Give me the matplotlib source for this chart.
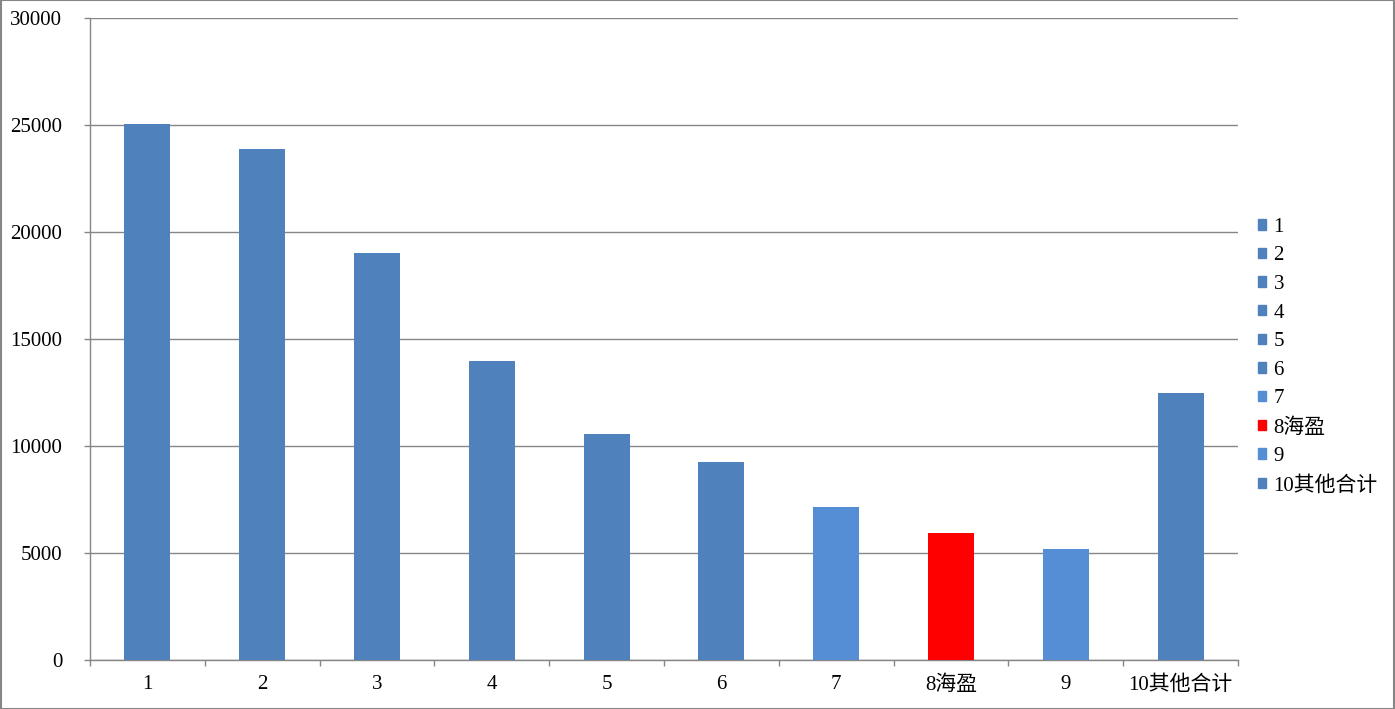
import matplotlib.pyplot as plt
from matplotlib.patches import Rectangle

categories = ["1", "2", "3", "4", "5", "6", "7", "8海盈", "9", "10其他合计"]
values = [25050, 23870, 19010, 13970, 10560, 9250, 7150, 5930, 5190, 12480]
bar_colors = ["#4F81BD"] * 6 + ["#558ED5", "#FF0000", "#558ED5", "#4F81BD"]
y_ticks = [0, 5000, 10000, 15000, 20000, 25000, 30000]

plt.rcParams['font.family'] = ['Liberation Serif', 'Noto Sans CJK SC', 'DejaVu Sans']

fig = plt.figure(figsize=(13.95, 7.09), dpi=100)
ax = fig.add_axes([90 / 1395, 1 - 660 / 709, (1238 - 90) / 1395, (660 - 18) / 709])

x = list(range(len(categories)))
bars = ax.bar(x, values, width=0.4, color=bar_colors, zorder=3)

ax.set_xlim(-0.5, len(categories) - 0.5)
ax.set_ylim(0, 30000)
ax.set_yticks(y_ticks)
ax.set_yticklabels([str(v) for v in y_ticks], fontsize=15)
ax.set_xticks(x)
ax.set_xticklabels(categories, fontsize=15)
ax.tick_params(axis='x', length=0, pad=11)
ax.set_xticks([i - 0.5 for i in range(len(categories) + 1)], minor=True)
ax.tick_params(axis='x', which='minor', length=4.5, color='#868686', width=1)
ax.tick_params(axis='y', length=4.5, color='#868686', width=1, pad=15.5)

ax.grid(axis='y', color='#868686', linewidth=1, zorder=0)
for s in ['top', 'right']:
    ax.spines[s].set_visible(False)
for s in ['left', 'bottom']:
    ax.spines[s].set_color('#868686')
    ax.spines[s].set_linewidth(1)

handles = [Rectangle((0, 0), 1, 1, color=c) for c in bar_colors]
fig.legend(handles, categories, loc='center left', bbox_to_anchor=(1258 / 1395, 0.497),
           frameon=False, fontsize=15, handlelength=0.4, handleheight=0.4,
           handletextpad=0.35, labelspacing=0.46, borderpad=0, borderaxespad=0)

fig.add_artist(Rectangle((0.0005, 0.0007), 0.999, 0.9986, transform=fig.transFigure,
                         fill=False, edgecolor='#868686', linewidth=1.5))

fig.savefig("out.png", dpi=100)
